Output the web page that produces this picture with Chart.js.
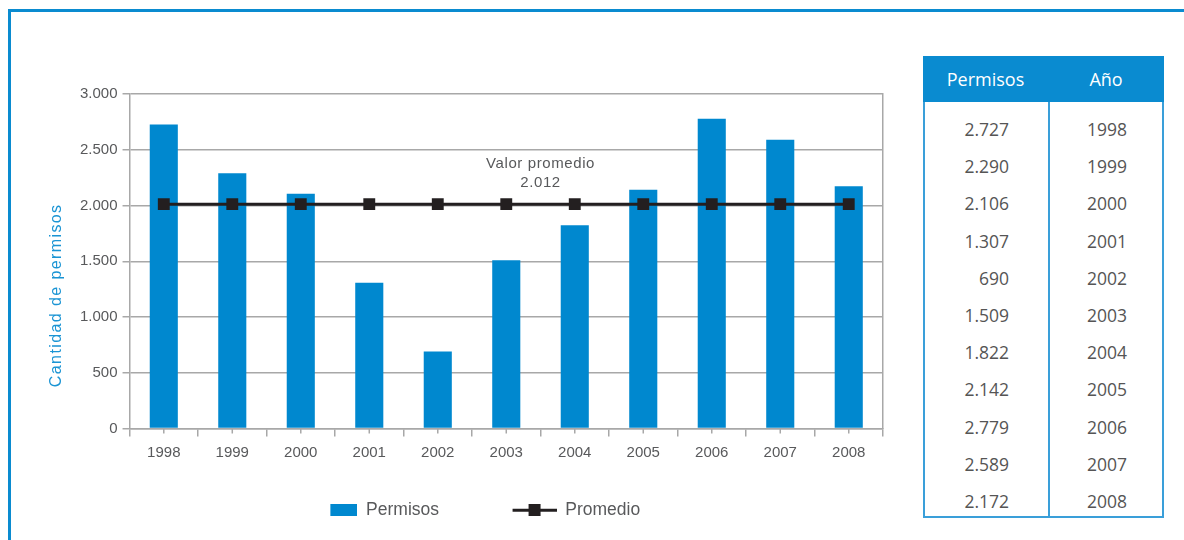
<!DOCTYPE html>
<html>
<head>
<meta charset="utf-8">
<script src="https://cdn.jsdelivr.net/npm/chart.js@4.4.1/dist/chart.umd.min.js"></script>
<style>
    html, body { margin: 0; padding: 0; background: #fff; }
    body { width: 1184px; height: 540px; position: relative; overflow: hidden; }
    #marco { position: absolute; left: 8px; top: 9px; width: 1200px; height: 560px; border: 3px solid #0a8bd0; }
    #grafico { position: absolute; left: 0; top: 0; }
    #tabla { position: absolute; left: 923px; top: 56px; width: 241px; height: 462px; border: 2px solid #3a9fd9; border-top: none; box-sizing: border-box; font-family: "Open Sans", "Noto Sans", sans-serif; color: #555; }
    #tabla .cab { position: absolute; left: -2px; top: 0; width: 241px; height: 46px; background: #0a8bd0; color: #fff; font-size: 18px; }
    #tabla .cab span { position: absolute; top: 0; line-height: 46px; text-align: center; }
    #tabla .div { position: absolute; left: 123px; top: 46px; bottom: 0; width: 2px; background: #3a9fd9; }
    #tabla .fila { position: absolute; left: 0; width: 237px; height: 37.2px; line-height: 37.2px; font-size: 17.5px; }
    #tabla .fila .v { position: absolute; right: 153px; }
    #tabla .fila .a { position: absolute; left: 125px; width: 114px; text-align: center; }
</style>
</head>
<body>
<div id="marco"></div>
<canvas id="grafico" width="900" height="540"></canvas>
<div id="tabla"></div>
<script>
// Datos del grafico
const anios = ['1998', '1999', '2000', '2001', '2002', '2003', '2004', '2005', '2006', '2007', '2008'];
const permisos = [2727, 2290, 2106, 1307, 690, 1509, 1822, 2142, 2779, 2589, 2172];
const promedioValor = 2012;
const promedio = anios.map(() => promedioValor);
const ticksY = [0, 500, 1000, 1500, 2000, 2500, 3000];

const azul = '#0088cf';
const grisTexto = '#58595b';
const grisLinea = '#a8a8a8';
const fuente = '"Liberation Sans", Arial, sans-serif';

function formatoMiles(n) {
    return n.toString().replace(/\B(?=(\d{3})+(?!\d))/g, '.');
}

// Tabla de la derecha
const tabla = document.getElementById('tabla');
let html = '<div class="cab"><span style="left:0;width:125px">Permisos</span><span style="left:125px;width:116px">Año</span></div><div class="div"></div>';
anios.forEach(function(a, i) {
    const top = 55 + i * 37.2;
    html += '<div class="fila" style="top:' + top + 'px"><span class="v">' + formatoMiles(permisos[i]) + '</span><span class="a">' + a + '</span></div>';
});
tabla.innerHTML = html;

// Simbolos de la leyenda (alineados a la derecha dentro de la caja)
const anchoCaja = 85;
function simboloBarra() {
    const c = document.createElement('canvas');
    c.width = anchoCaja; c.height = 12;
    const ctx = c.getContext('2d');
    ctx.fillStyle = azul;
    ctx.fillRect(anchoCaja - 27, 0, 27, 12);
    return c;
}
function simboloLinea() {
    const c = document.createElement('canvas');
    c.width = anchoCaja; c.height = 12;
    const ctx = c.getContext('2d');
    ctx.fillStyle = '#231f20';
    ctx.fillRect(anchoCaja - 44, 5, 44, 3);
    ctx.fillRect(anchoCaja - 28, 0, 12, 12);
    return c;
}

// Marcas cortas en el centro de cada categoria
const marcasCentro = {
    id: 'marcasCentro',
    afterDatasetsDraw(chart) {
        const ctx = chart.ctx;
        const x = chart.scales.x;
        const base = chart.chartArea.bottom;
        ctx.save();
        ctx.strokeStyle = grisLinea;
        ctx.lineWidth = 1.5;
        ctx.beginPath();
        anios.forEach(function(a, i) {
            const px = x.getPixelForValue(i);
            ctx.moveTo(px, base);
            ctx.lineTo(px, base + 5);
        });
        ctx.stroke();
        ctx.restore();
    }
};

// Titulo del eje Y y etiqueta del promedio
const textosExtra = {
    id: 'textosExtra',
    afterDraw(chart) {
        const ctx = chart.ctx;
        const x = chart.scales.x;
        const y = chart.scales.y;
        ctx.save();
        ctx.letterSpacing = '0.6px';
        ctx.font = '15px ' + fuente;
        ctx.fillStyle = grisTexto;
        ctx.textAlign = 'center';
        ctx.textBaseline = 'middle';
        const cx = (x.getPixelForValue(5) + x.getPixelForValue(6)) / 2;
        const py = y.getPixelForValue(promedioValor);
        ctx.fillText('Valor promedio', cx, py - 40);
        ctx.fillText(formatoMiles(promedioValor), cx, py - 21);
        // titulo eje
        ctx.fillStyle = '#1a94d4';
        ctx.letterSpacing = '1.4px';
        ctx.font = '16px ' + fuente;
        ctx.translate(57, y.getPixelForValue(2000) - 2);
        ctx.rotate(-Math.PI / 2);
        ctx.textAlign = 'right';
        ctx.fillText('Cantidad de permisos', 0, 0);
        ctx.restore();
    }
};

const ctx = document.getElementById('grafico').getContext('2d');
const grafico = new Chart(ctx, {
    type: 'bar',
    data: {
        labels: anios,
        datasets: [{
            label: 'Permisos',
            data: permisos,
            backgroundColor: azul,
            barPercentage: 0.41,
            categoryPercentage: 1,
            order: 2
        }, {
            type: 'line',
            label: 'Promedio',
            data: promedio,
            borderColor: '#231f20',
            backgroundColor: '#231f20',
            borderWidth: 3,
            pointStyle: 'rect',
            pointRadius: 8.4,
            pointBackgroundColor: '#231f20',
            pointBorderWidth: 0,
            order: 1
        }]
    },
    options: {
        responsive: false,
        animation: false,
        layout: {
            padding: { left: 21.5, top: 94, right: 9, bottom: 11.5 }
        },
        plugins: {
            legend: {
                position: 'bottom',
                labels: {
                    usePointStyle: true,
                    pointStyleWidth: anchoCaja,
                    boxHeight: 12,
                    padding: 32.5,
                    color: grisTexto,
                    font: { family: fuente, size: 17.5 },
                    generateLabels: function(chart) {
                        const simbolos = [simboloBarra(), simboloLinea()];
                        return chart.data.datasets.map(function(ds, i) {
                            return {
                                text: ds.label,
                                pointStyle: simbolos[i],
                                fillStyle: 'transparent',
                                strokeStyle: 'transparent',
                                lineWidth: 0,
                                fontColor: grisTexto,
                                datasetIndex: i
                            };
                        });
                    }
                }
            },
            tooltip: { enabled: false }
        },
        scales: {
            x: {
                offset: true,
                grid: {
                    display: true,
                    offset: true,
                    drawOnChartArea: false,
                    tickLength: 8,
                    color: grisLinea,
                    lineWidth: 1.5
                },
                border: { color: grisLinea, width: 1.5 },
                ticks: {
                    color: grisTexto,
                    padding: 7,
                    font: { family: fuente, size: 15 }
                }
            },
            y: {
                min: 0,
                max: 3000,
                afterBuildTicks: function(scale) {
                    scale.ticks = ticksY.map(v => ({ value: v }));
                },
                afterFit: function(scale) {
                    scale.width += 53.5;
                },
                grid: {
                    color: grisLinea,
                    lineWidth: 1.5,
                    tickLength: 7
                },
                border: { color: grisLinea, width: 1.5 },
                ticks: {
                    color: grisTexto,
                    padding: 5,
                    font: { family: fuente, size: 15 },
                    callback: function(v) { return formatoMiles(v); }
                }
            },
            yDer: {
                position: 'right',
                min: 0,
                max: 3000,
                grid: { display: false, drawOnChartArea: false },
                border: { display: true, color: grisLinea, width: 1.5 },
                ticks: { display: false }
            }
        }
    },
    plugins: [marcasCentro, textosExtra]
});
</script>
</body>
</html>
